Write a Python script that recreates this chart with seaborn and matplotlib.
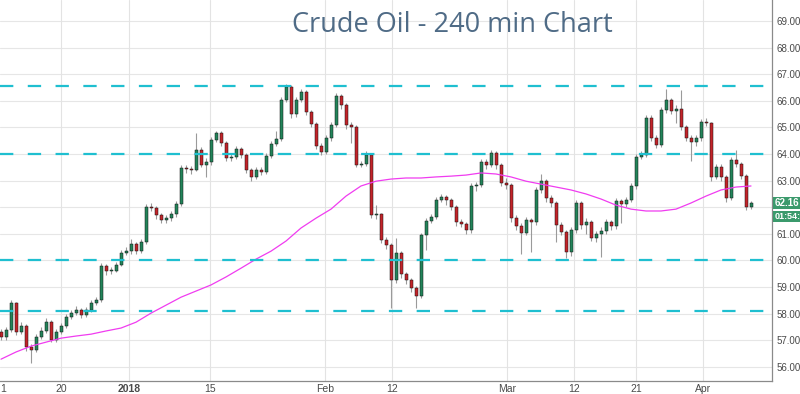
import matplotlib
matplotlib.use("Agg")
import matplotlib.pyplot as plt
import seaborn as sns
import numpy as np
import pandas as pd

# ---- data ----
opens = [57.30, 57.12, 57.38, 58.40, 57.31, 57.53, 56.74, 56.63, 57.12, 57.35,
         57.68, 57.01, 57.31, 57.53, 57.87, 58.02, 58.14, 57.95, 58.14, 58.40,
         58.51, 59.79, 59.60, 59.62, 59.83, 60.28, 60.35, 60.62, 60.35, 60.69,
         62.01, 61.97, 61.71, 61.52, 61.59, 61.74, 62.12, 63.47, 63.42, 63.40,
         64.15, 63.59, 63.70, 64.53, 64.79, 64.41, 63.85, 63.89, 64.19, 63.96,
         63.40, 63.14, 63.40, 63.32, 63.92, 64.38, 64.56, 66.03, 66.52, 65.50,
         66.03, 66.33, 65.58, 65.13, 64.30, 64.08, 64.60, 65.09, 66.18, 65.84,
         65.09, 65.02, 63.59, 63.62, 63.96, 61.71, 61.74, 60.77, 60.58, 59.26,
         60.28, 59.49, 59.26, 58.96, 58.66, 60.95, 61.48, 61.63, 62.27, 62.38,
         62.27, 62.01, 61.44, 61.37, 61.14, 62.80, 62.83, 63.70, 63.59, 64.04,
         63.59, 62.91, 62.83, 61.59, 61.29, 61.03, 61.52, 61.44, 62.65, 62.98,
         62.35, 62.16, 61.33, 61.07, 60.32, 61.14, 62.16, 61.33, 61.44, 60.84,
         60.99, 61.11, 61.44, 61.29, 62.23, 62.12, 62.27, 62.80, 63.89, 63.96,
         65.35, 64.60, 64.34, 65.65, 66.03, 65.62, 65.69, 65.02, 64.60, 64.45,
         64.60, 65.20, 65.17, 63.14, 63.51, 63.14, 62.35, 63.77, 63.62, 63.17,
         62.01]
closes = [57.12, 57.38, 58.40, 57.31, 57.53, 56.74, 56.63, 57.12, 57.35, 57.68,
          57.01, 57.31, 57.53, 57.87, 58.02, 58.14, 57.95, 58.14, 58.40, 58.51,
          59.79, 59.60, 59.62, 59.83, 60.28, 60.35, 60.62, 60.35, 60.69, 62.01,
          61.97, 61.71, 61.52, 61.59, 61.74, 62.12, 63.47, 63.42, 63.40, 64.15,
          63.59, 63.70, 64.53, 64.79, 64.41, 63.85, 63.89, 64.19, 63.96, 63.40,
          63.14, 63.40, 63.32, 63.92, 64.38, 64.56, 66.03, 66.52, 65.50, 66.03,
          66.33, 65.58, 65.13, 64.30, 64.08, 64.60, 65.09, 66.18, 65.84, 65.09,
          65.02, 63.59, 63.62, 63.96, 61.71, 61.74, 60.77, 60.58, 59.26, 60.28,
          59.49, 59.26, 58.96, 58.66, 60.95, 61.48, 61.63, 62.27, 62.38, 62.27,
          62.01, 61.44, 61.37, 61.14, 62.80, 62.83, 63.70, 63.59, 64.04, 63.59,
          62.91, 62.83, 61.59, 61.29, 61.03, 61.52, 61.44, 62.65, 62.98, 62.35,
          62.16, 61.33, 61.07, 60.32, 61.14, 62.16, 61.33, 61.44, 60.84, 60.99,
          61.11, 61.44, 61.29, 62.23, 62.12, 62.27, 62.80, 63.89, 63.96, 65.35,
          64.60, 64.34, 65.65, 66.03, 65.62, 65.69, 65.02, 64.60, 64.45, 64.60,
          65.20, 65.17, 63.14, 63.51, 63.14, 62.35, 63.77, 63.62, 63.17, 62.01,
          62.16]
highs = [57.42, 57.50, 58.52, 58.45, 57.70, 57.60, 56.85, 57.25, 57.50, 57.82,
         57.75, 57.42, 57.65, 58.00, 58.15, 58.30, 58.22, 58.25, 58.50, 58.62,
         59.90, 59.85, 59.75, 59.95, 60.40, 60.50, 60.80, 60.70, 60.80, 62.12,
         62.15, 62.05, 61.80, 61.70, 61.85, 62.25, 63.60, 63.58, 63.55, 64.80,
         64.25, 63.85, 64.65, 64.88, 64.85, 64.50, 64.00, 64.30, 64.28, 64.05,
         63.48, 63.52, 63.50, 64.05, 64.50, 64.85, 66.15, 66.62, 66.58, 66.15,
         66.45, 66.40, 65.65, 65.20, 64.40, 64.72, 65.20, 66.30, 66.25, 65.92,
         65.20, 65.10, 63.75, 64.10, 64.02, 62.08, 61.80, 60.90, 60.65, 60.85,
         60.35, 59.55, 59.35, 59.05, 61.05, 61.60, 61.75, 62.40, 62.50, 62.45,
         62.35, 62.10, 61.55, 61.45, 62.90, 62.95, 63.82, 63.80, 64.15, 64.10,
         63.65, 63.10, 62.90, 61.70, 61.40, 61.65, 61.60, 62.75, 63.25, 63.05,
         62.45, 62.25, 61.45, 61.15, 61.25, 62.28, 62.25, 61.60, 61.52, 61.10,
         61.25, 61.55, 61.52, 62.35, 62.32, 62.40, 62.92, 64.00, 64.10, 65.48,
         65.45, 64.70, 65.78, 66.45, 66.12, 65.85, 66.40, 65.10, 64.70, 64.72,
         65.32, 65.35, 65.22, 63.62, 63.62, 63.22, 63.88, 64.15, 63.70, 63.25,
         62.22]
lows = [57.00, 57.02, 57.30, 57.20, 57.22, 56.60, 56.14, 56.55, 57.05, 57.28,
        56.95, 56.92, 57.25, 57.45, 57.80, 57.95, 57.85, 57.88, 58.05, 58.32,
        58.45, 59.45, 59.50, 59.55, 59.78, 60.20, 60.25, 60.25, 60.28, 60.62,
        61.85, 61.55, 61.40, 61.42, 61.50, 61.65, 62.05, 63.30, 63.25, 63.35,
        63.50, 63.15, 63.60, 64.45, 64.30, 63.75, 63.75, 63.80, 63.85, 63.30,
        62.98, 63.05, 63.20, 63.25, 63.85, 64.30, 64.50, 65.95, 65.35, 65.40,
        65.95, 65.45, 65.00, 64.20, 63.95, 64.00, 64.50, 65.00, 65.70, 64.95,
        64.40, 63.50, 63.50, 63.55, 61.60, 61.55, 60.65, 60.45, 58.20, 59.15,
        59.35, 59.10, 58.80, 58.20, 58.60, 60.40, 61.40, 61.55, 62.20, 62.10,
        61.90, 61.30, 61.25, 61.00, 61.05, 62.60, 62.75, 63.45, 63.50, 63.45,
        62.80, 62.70, 61.45, 61.15, 60.25, 60.95, 60.30, 61.35, 62.55, 62.20,
        62.00, 60.70, 60.95, 60.10, 60.15, 61.05, 61.20, 61.00, 60.75, 60.70,
        60.13, 61.00, 61.15, 61.20, 61.40, 62.00, 62.20, 62.70, 63.80, 63.90,
        64.50, 64.22, 64.28, 65.55, 65.50, 65.15, 64.92, 64.48, 63.72, 64.30,
        64.50, 65.05, 63.00, 63.05, 63.00, 62.18, 62.28, 63.50, 63.05, 61.88,
        61.95]
ma_index = list(range(0, 151, 3))
ma_values = [56.29, 56.56, 56.78, 56.93, 57.08, 57.16, 57.23, 57.35, 57.46, 57.68,
             58.02, 58.32, 58.62, 58.85, 59.08, 59.38, 59.71, 60.05, 60.35, 60.73,
             61.22, 61.59, 61.93, 62.42, 62.80, 62.98, 63.06, 63.10, 63.10, 63.14,
             63.17, 63.21, 63.29, 63.25, 63.14, 62.98, 62.87, 62.76, 62.65, 62.50,
             62.31, 62.08, 61.93, 61.86, 61.86, 61.93, 62.16, 62.42, 62.65, 62.76,
             62.80]
level_lines = [66.55, 64.0, 60.03, 58.1]
xtick_pos = [0.4, 12, 25.6, 41.8, 64.8, 78.2, 101.2, 114.6, 127, 140.4]
xtick_labels = ["1", "20", "2018", "15", "Feb", "12", "Mar", "12", "21", "Apr"]
ytick_vals = [56, 57, 58, 59, 60, 61, 62, 63, 64, 65, 66, 67, 68, 69]
last_price = "62.16"
last_price_value = 62.16
countdown = "01:54:"
title = "Crude Oil - 240 min Chart"

# ---- drawing ----
sns.set_theme(style="white")
plt.rcParams["font.family"] = ["Liberation Sans", "DejaVu Sans"]

fig = plt.figure(figsize=(8, 3.94), dpi=100)
ax = fig.add_axes([0, 13 / 394, 772 / 800, 381 / 394])

df = pd.DataFrame({"o": opens, "c": closes, "h": highs, "l": lows})
df["x"] = np.arange(len(df))
up = df["c"] >= df["o"]

GREEN = "#23845a"
RED = "#c3242a"

# grid
for v in ytick_vals:
    ax.axhline(v, color="#e6e6e6", lw=0.8, zorder=0)
for p in xtick_pos[1:]:
    ax.axvline(p, color="#e3e3e3", lw=0.8, zorder=0)

# wicks
ax.vlines(df["x"], df["l"], df["h"], color="#9a9a9a", lw=0.8, zorder=2)
# bodies
body_h = (df["c"] - df["o"]).abs().clip(lower=0.03)
body_b = df[["o", "c"]].min(axis=1)
ax.bar(df["x"][up], body_h[up], bottom=body_b[up], width=0.6,
       color=GREEN, edgecolor="#111111", linewidth=0.35, zorder=3)
ax.bar(df["x"][~up], body_h[~up], bottom=body_b[~up], width=0.6,
       color=RED, edgecolor="#111111", linewidth=0.35, zorder=3)

# moving average
sns.lineplot(x=ma_index, y=ma_values, ax=ax, color="#f03cf0", lw=0.9, zorder=4)

# horizontal levels
for lv in level_lines:
    ax.axhline(lv, color="#1fbfd0", lw=1.6, linestyle=(0, (6, 6.5)), zorder=5)

ax.set_xlim(-0.2, 154.2)
ax.set_ylim(55.47, 69.79)

ax.yaxis.tick_right()
ax.set_yticks(ytick_vals)
# the 62.00 label is covered by the last-price box in the reference
ax.set_yticklabels(["" if abs(v - last_price_value) < 0.5 else f"{v:.2f}" for v in ytick_vals])
ax.set_xticks(xtick_pos)
ax.set_xticklabels(xtick_labels)
for lbl in ax.get_xticklabels():
    if lbl.get_text() == "2018":
        lbl.set_fontweight("bold")
ax.tick_params(axis="y", length=0, pad=3, labelsize=7, colors="#4a4a4a")
ax.tick_params(axis="x", length=0, pad=2, labelsize=7.5, colors="#4a4a4a")
for s in ["top", "left"]:
    ax.spines[s].set_visible(False)
for s in ["right", "bottom"]:
    ax.spines[s].set_color("#8a8a8a")
    ax.spines[s].set_linewidth(0.9)
ax.set_xlabel("")
ax.set_ylabel("")

# last price labels
ax.text(1.003, last_price_value, last_price, transform=ax.get_yaxis_transform(),
        ha="left", va="center", fontsize=7, color="white", fontweight="bold",
        bbox=dict(boxstyle="square,pad=0.12", fc="#3b9a6c", ec="none"), clip_on=False)
ax.text(1.003, 61.66, countdown, transform=ax.get_yaxis_transform(), ha="left", va="center",
        fontsize=6.5, color="white", fontweight="bold",
        bbox=dict(boxstyle="square,pad=0.12", fc="#3b9a6c", ec="none"), clip_on=False)

fig.text(452 / 800, 1 - 25 / 394, title, ha="center", va="center",
         fontsize=19.5, color="#4f6b86", family=["Open Sans", "DejaVu Sans"])

fig.savefig("out.png", dpi=100)
